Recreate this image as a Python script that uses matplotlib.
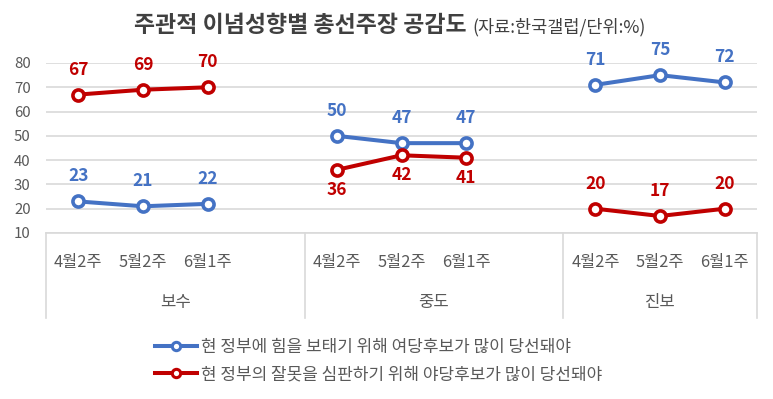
import numpy as np
import matplotlib.pyplot as plt
from matplotlib.lines import Line2D

plt.rcParams['font.family'] = ['Noto Sans CJK KR', 'DejaVu Sans']

groups = ['보수', '중도', '진보']
weeks = ['4월2주', '5월2주', '6월1주']
blue_vals = [[23, 21, 22], [50, 47, 47], [71, 75, 72]]
red_vals = [[67, 69, 70], [36, 42, 41], [20, 17, 20]]
red_label_pos = ['above', 'below', 'above']
blue_name = '현 정부에 힘을 보태기 위해 여당후보가 많이 당선돼야'
red_name = '현 정부의 잘못을 심판하기 위해 야당후보가 많이 당선돼야'
yticks = [10, 20, 30, 40, 50, 60, 70, 80]

BLUE = '#4472C4'
RED = '#C00000'
GRID = '#D9D9D9'
TXT = '#595959'

fig = plt.figure(figsize=(7.73, 3.99), dpi=100)
ax = fig.add_axes([46 / 773, 166 / 399, 711 / 773, 170 / 399])

# 그룹마다 4칸(마지막 그룹은 3칸), 빈 칸에서 선이 끊김
slots = 4
n = slots * len(groups) - 1
ax.set_xlim(-0.5, n - 0.5)
ax.set_ylim(10, 80)

for g in range(len(groups)):
    xs = [g * slots + i for i in range(len(weeks))]
    for vals, col, pos in [(blue_vals[g], BLUE, 'above'),
                           (red_vals[g], RED, red_label_pos[g])]:
        ax.plot(xs, vals, color=col, lw=2.9, marker='o', ms=8,
                mfc='white', mec=col, mew=2.6, clip_on=False, zorder=3)
        for x, v in zip(xs, vals):
            dy = 18 if pos == 'above' else -14.5
            ax.annotate(str(v), (x, v), xytext=(0, dy), textcoords='offset points',
                        ha='center', va='center', color=col, fontsize=12.5,
                        fontweight='bold', annotation_clip=False)
    for i, w in enumerate(weeks):
        ax.text(xs[i], -29 / 170, w, transform=ax.get_xaxis_transform(),
                ha='center', va='center', fontsize=11.8, color=TXT)
    gx0 = g * slots - 0.5
    gx1 = min(gx0 + slots, n - 0.5)
    ax.text((gx0 + gx1) / 2, -70 / 170, groups[g], transform=ax.get_xaxis_transform(),
            ha='center', va='center', fontsize=12, color=TXT)

# 그룹 구분선
for g in range(len(groups) + 1):
    bx = min(g * slots - 0.5, n - 0.5)
    ax.plot([bx, bx], [0, -85 / 170], transform=ax.get_xaxis_transform(),
            color=GRID, lw=1.2, clip_on=False)

ax.set_yticks(yticks)
ax.set_yticklabels([str(t) for t in yticks], fontsize=10.8, color=TXT)
ax.tick_params(axis='y', length=0, pad=11)
ax.set_xticks([])
ax.grid(axis='y', color=GRID, lw=1.2)
ax.set_axisbelow(True)
for s in ['top', 'right', 'left']:
    ax.spines[s].set_visible(False)
ax.spines['bottom'].set_color(GRID)
ax.spines['bottom'].set_linewidth(1.2)

fig.text(134 / 773, 1 - 25 / 399, '주관적 이념성향별 총선주장 공감도', ha='left', va='center',
         fontsize=16.5, fontweight='bold', color='#404040')
fig.text(472 / 773, 1 - 27 / 399, '(자료:한국갤럽/단위:%)', ha='left', va='center',
         fontsize=12.6, color='#404040')

handles = [Line2D([], [], color=BLUE, lw=2.9, marker='o', ms=6, mfc='white', mec=BLUE, mew=2.2),
           Line2D([], [], color=RED, lw=2.9, marker='o', ms=6, mfc='white', mec=RED, mew=2.2)]
fig.legend(handles, [blue_name, red_name], loc='upper left',
           bbox_to_anchor=(148 / 773, 1 - 331 / 399), frameon=False,
           fontsize=12.2, handlelength=2.5, handletextpad=0.2, labelspacing=0.55,
           labelcolor=TXT, borderaxespad=0)

fig.savefig('out.png', dpi=100)
